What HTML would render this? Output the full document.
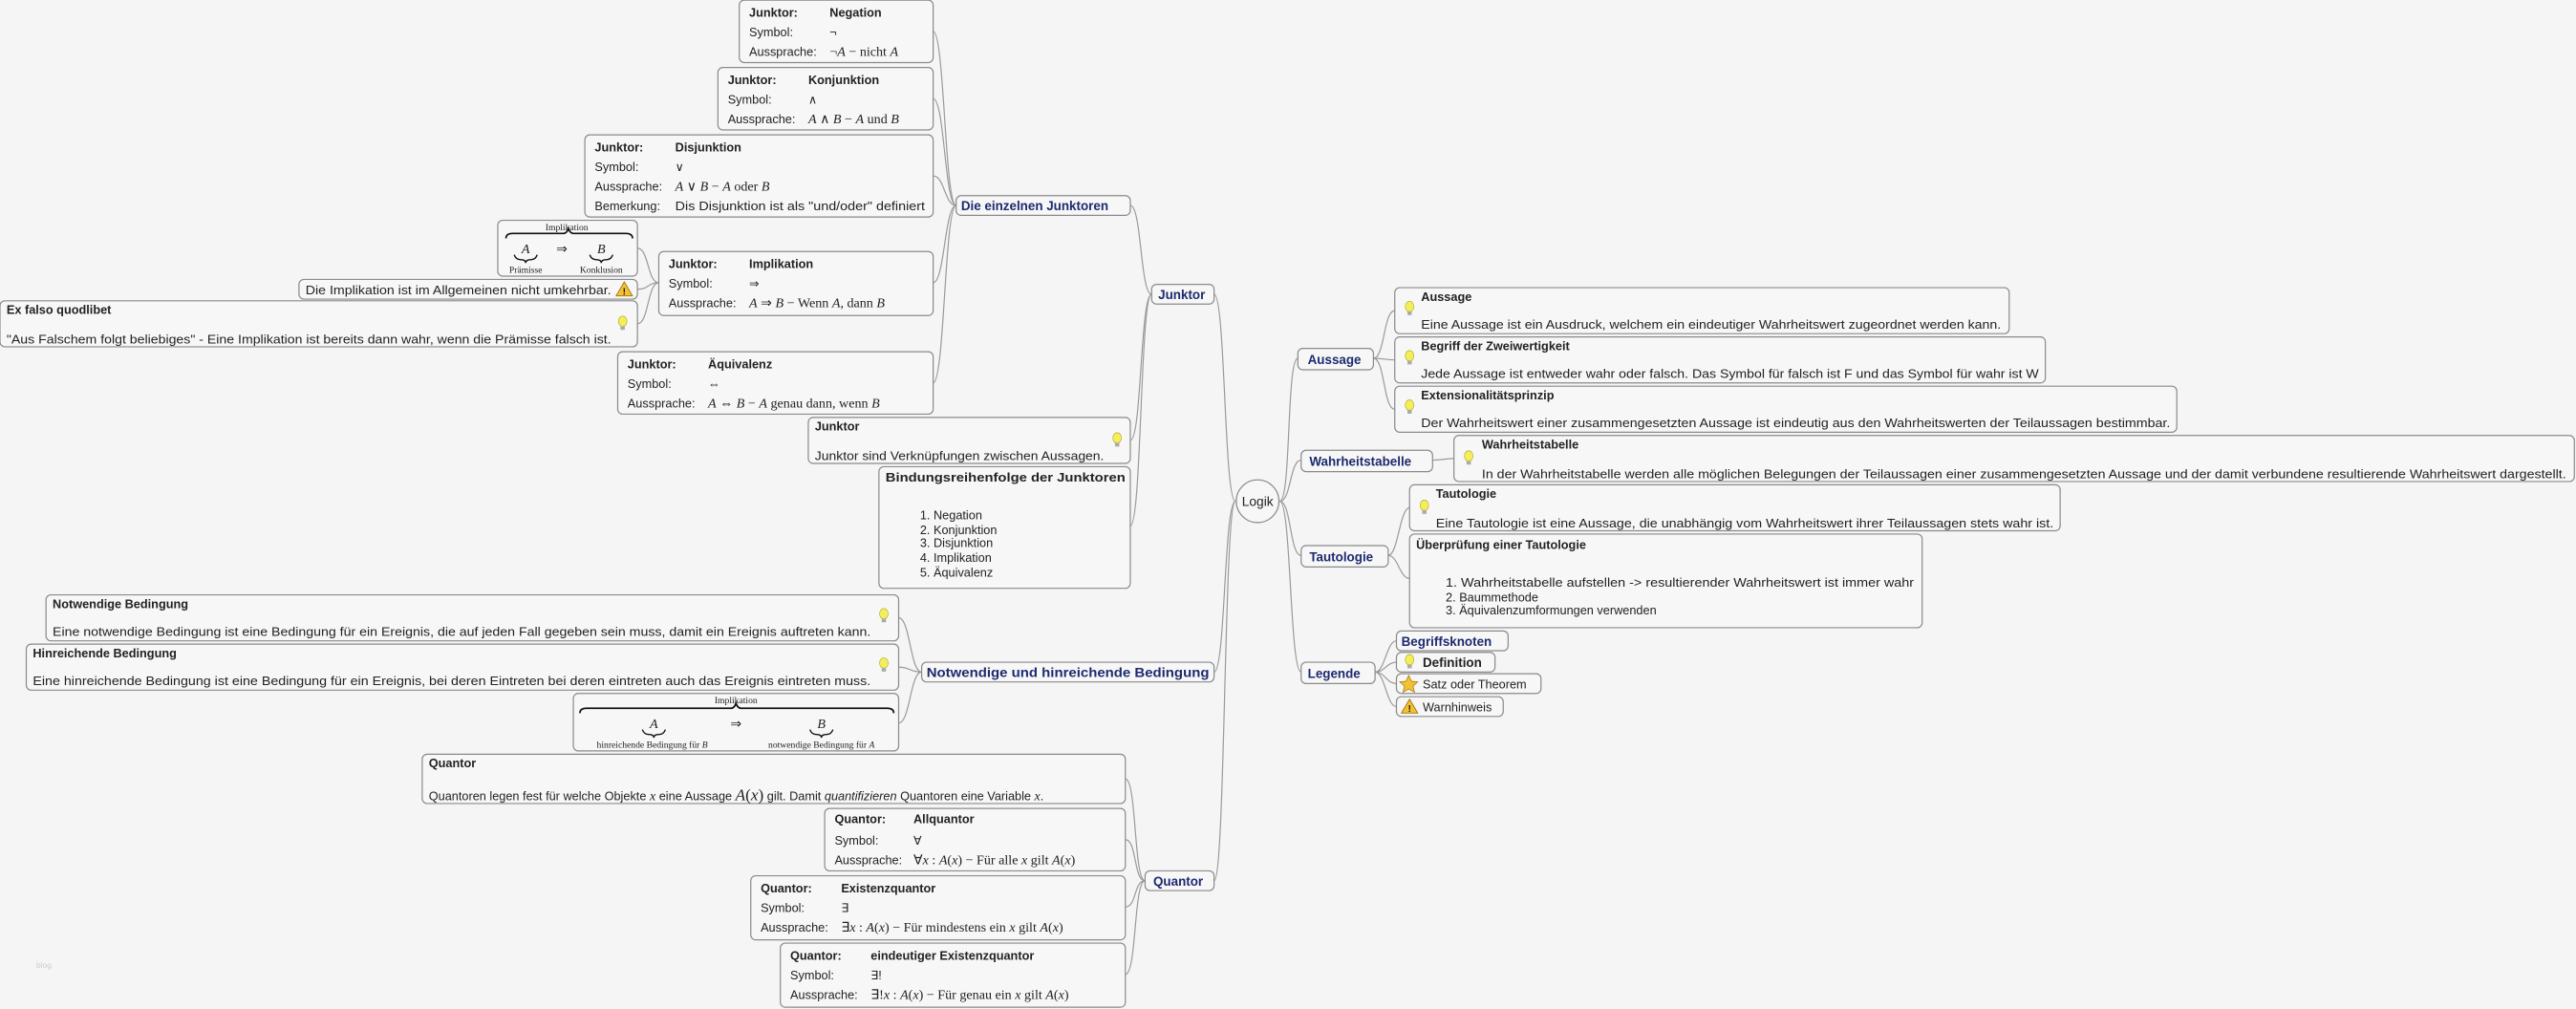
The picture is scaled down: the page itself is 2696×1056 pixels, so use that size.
<!DOCTYPE html>
<html><head><meta charset="utf-8"><style>
html,body{margin:0;padding:0;background:#f5f5f5;}
svg{display:block}
text{font-family:"Liberation Sans",sans-serif;font-size:7.4px;fill:#222}
.b{font-weight:bold}
.lb{font-weight:bold;fill:#1c2a6e;font-size:7.8px}
.m{font-family:"Liberation Serif",serif;font-size:8.2px}
.i{font-style:italic}
.s{font-family:"Liberation Serif",serif;font-size:5.6px}
.bx{fill:#f7f7f7;stroke:#8a8a8a;stroke-width:0.7}
.c{fill:none;stroke:#9a9a9a;stroke-width:0.7}
</style></head><body>
<svg width="2696" height="1056" viewBox="0 0 1568 614" xmlns="http://www.w3.org/2000/svg">
<defs>
<g id="bulb"><ellipse cx="0" cy="-1.5" rx="2.6" ry="3.2" fill="#f4ee5a" stroke="#b5ad30" stroke-width="0.4"/><rect x="-1.3" y="1.5" width="2.6" height="2.2" fill="#aaa"/></g>
<g id="warn"><polygon points="0,-4.5 5,4 -5,4" fill="#f2c230" stroke="#a07010" stroke-width="0.5"/><text x="0" y="3.2" text-anchor="middle" style="font-size:6px;font-weight:bold">!</text></g>
</defs>
<rect width="1568" height="614" fill="#f5f5f5"/>

<!-- connectors -->
<g class="c">
<path d="M779 305 C786 305,783 218,790 218"/>
<path d="M779 305 C786 305,785 280,792 280"/>
<path d="M779 305 C786 305,785 338,792 338"/>
<path d="M779 305 C786 305,785 409,792 409"/>
<path d="M836 218 C843 218,842 189,849 189"/>
<path d="M836 218 C843 218,842 219,849 219"/>
<path d="M836 218 C843 218,842 249,849 249"/>
<path d="M872 280 C878 280,879 279,885 279"/>
<path d="M845 338 C851 338,852 309,858 309"/>
<path d="M845 338 C851 338,852 352,858 352"/>
<path d="M837 409 C843 409,844 390,850 390"/>
<path d="M837 409 C843 409,844 403,850 403"/>
<path d="M837 409 C843 409,844 416,850 416"/>
<path d="M837 409 C843 409,844 430,850 430"/>

<path d="M752 305 C745 305,746 179,739 179"/>
<path d="M752 305 C745 305,746 409,739 409"/>
<path d="M752 305 C745 305,746 536,739 536"/>
<path d="M701 179 C694 179,695 125,688 125"/>
<path d="M701 179 C694 179,695 268,688 268"/>
<path d="M701 179 C694 179,695 320,688 320"/>
<path d="M582 125 C575 125,575 19,568 19"/>
<path d="M582 125 C575 125,575 60,568 60"/>
<path d="M582 125 C575 125,575 107,568 107"/>
<path d="M582 125 C575 125,575 172,568 172"/>
<path d="M582 125 C575 125,575 233,568 233"/>
<path d="M401 172 C394 172,395 151,388 151"/>
<path d="M401 172 C394 172,395 176,388 176"/>
<path d="M401 172 C394 172,395 197,388 197"/>
<path d="M561 409 C554 409,554 376,547 376"/>
<path d="M561 409 C554 409,554 406,547 406"/>
<path d="M561 409 C554 409,554 440,547 440"/>
<path d="M697 536 C690 536,692 474,685 474"/>
<path d="M697 536 C690 536,692 511,685 511"/>
<path d="M697 536 C690 536,692 552,685 552"/>
<path d="M697 536 C690 536,692 593,685 593"/>
</g>

<!-- root -->
<ellipse cx="765.5" cy="305" rx="13" ry="13" fill="#f7f7f7" stroke="#8a8a8a" stroke-width="0.7"/>
<text x="765.5" y="308" text-anchor="middle" style="font-size:8px">Logik</text>

<!-- right side -->
<rect class="bx" x="790" y="212" width="46" height="13" rx="3"/><text class="lb" x="796" y="221.5">Aussage</text>
<rect class="bx" x="849" y="175" width="374" height="28" rx="3"/><use href="#bulb" x="858" y="188"/>
<text class="b" x="865" y="183">Aussage</text>
<text x="865" y="200" textLength="353" lengthAdjust="spacingAndGlyphs">Eine Aussage ist ein Ausdruck, welchem ein eindeutiger Wahrheitswert zugeordnet werden kann.</text>
<rect class="bx" x="849" y="205" width="396" height="28" rx="3"/><use href="#bulb" x="858" y="218"/>
<text class="b" x="865" y="213">Begriff der Zweiwertigkeit</text>
<text x="865" y="230" textLength="376" lengthAdjust="spacingAndGlyphs">Jede Aussage ist entweder wahr oder falsch. Das Symbol für falsch ist F und das Symbol für wahr ist W</text>
<rect class="bx" x="849" y="235" width="476" height="28" rx="3"/><use href="#bulb" x="858" y="248"/>
<text class="b" x="865" y="243">Extensionalitätsprinzip</text>
<text x="865" y="260" textLength="456" lengthAdjust="spacingAndGlyphs">Der Wahrheitswert einer zusammengesetzten Aussage ist eindeutig aus den Wahrheitswerten der Teilaussagen bestimmbar.</text>

<rect class="bx" x="792" y="274" width="80" height="13" rx="3"/><text class="lb" x="797" y="283.5">Wahrheitstabelle</text>
<rect class="bx" x="885" y="265" width="682" height="28" rx="3"/><use href="#bulb" x="894" y="279"/>
<text class="b" x="902" y="273">Wahrheitstabelle</text>
<text x="902" y="291" textLength="660" lengthAdjust="spacingAndGlyphs">In der Wahrheitstabelle werden alle möglichen Belegungen der Teilaussagen einer zusammengesetzten Aussage und der damit verbundene resultierende Wahrheitswert dargestellt.</text>

<rect class="bx" x="792" y="332" width="53" height="13" rx="3"/><text class="lb" x="797" y="341.5">Tautologie</text>
<rect class="bx" x="858" y="295" width="396" height="28" rx="3"/><use href="#bulb" x="867" y="309"/>
<text class="b" x="874" y="303">Tautologie</text>
<text x="874" y="321" textLength="376" lengthAdjust="spacingAndGlyphs">Eine Tautologie ist eine Aussage, die unabhängig vom Wahrheitswert ihrer Teilaussagen stets wahr ist.</text>
<rect class="bx" x="858" y="325" width="312" height="57" rx="3"/>
<text class="b" x="862" y="334">Überprüfung einer Tautologie</text>
<text x="880" y="357" textLength="285" lengthAdjust="spacingAndGlyphs">1. Wahrheitstabelle aufstellen -&gt; resultierender Wahrheitswert ist immer wahr</text>
<text x="880" y="366">2. Baummethode</text>
<text x="880" y="374">3. Äquivalenzumformungen verwenden</text>

<rect class="bx" x="792" y="403" width="45" height="13" rx="3"/><text class="lb" x="796" y="412.5">Legende</text>
<rect class="bx" x="850" y="384" width="68" height="12" rx="3"/><text class="lb" x="853" y="393">Begriffsknoten</text>
<rect class="bx" x="850" y="397" width="60" height="12" rx="3"/><use href="#bulb" x="858" y="403"/><text class="b" x="866" y="406" style="font-size:7.8px">Definition</text>
<rect class="bx" x="850" y="410" width="88" height="12" rx="3"/><polygon points="857.5,411 859.2,414.6 863,415 860.1,417.6 861,421.3 857.5,419.3 854,421.3 854.9,417.6 852,415 855.8,414.6" fill="#f2c230" stroke="#a07010" stroke-width="0.4"/><text x="866" y="419">Satz oder Theorem</text>
<rect class="bx" x="850" y="424" width="65" height="12" rx="3"/><use href="#warn" x="858" y="430"/><text x="866" y="433">Warnhinweis</text>

<!-- left: Junktor -->
<rect class="bx" x="701" y="173" width="38" height="12" rx="3"/><text class="lb" x="705" y="182">Junktor</text>
<rect class="bx" x="582" y="119" width="106" height="12" rx="3"/><text class="lb" x="585" y="128">Die einzelnen Junktoren</text>

<rect class="bx" x="450" y="0" width="118" height="38" rx="3"/>
<text class="b" x="456" y="10">Junktor:</text><text class="b" x="505" y="10">Negation</text>
<text x="456" y="22">Symbol:</text><text x="505" y="22">¬</text>
<text x="456" y="34">Aussprache:</text><text class="m" x="505" y="34">¬<tspan class="i">A</tspan> − nicht <tspan class="i">A</tspan></text>

<rect class="bx" x="437" y="41" width="131" height="38" rx="3"/>
<text class="b" x="443" y="51">Junktor:</text><text class="b" x="492" y="51">Konjunktion</text>
<text x="443" y="63">Symbol:</text><text x="492" y="63">∧</text>
<text x="443" y="75">Aussprache:</text><text class="m" x="492" y="75"><tspan class="i">A</tspan> ∧ <tspan class="i">B</tspan> − <tspan class="i">A</tspan> und <tspan class="i">B</tspan></text>

<rect class="bx" x="356" y="82" width="212" height="50" rx="3"/>
<text class="b" x="362" y="92">Junktor:</text><text class="b" x="411" y="92">Disjunktion</text>
<text x="362" y="104">Symbol:</text><text x="411" y="104">∨</text>
<text x="362" y="116">Aussprache:</text><text class="m" x="411" y="116"><tspan class="i">A</tspan> ∨ <tspan class="i">B</tspan> − <tspan class="i">A</tspan> oder <tspan class="i">B</tspan></text>
<text x="362" y="128">Bemerkung:</text><text x="411" y="128" textLength="152" lengthAdjust="spacingAndGlyphs">Dis Disjunktion ist als "und/oder" definiert</text>

<rect class="bx" x="303" y="134" width="85" height="34" rx="3"/>
<text class="s" x="345" y="140" text-anchor="middle">Implikation</text>
<path d="M308 145 Q308 142,312 142 L343 142 Q345 142,346 139 Q347 142,349 142 L381 142 Q385 142,385 145" fill="none" stroke="#111" stroke-width="1"/>
<text class="m i" x="320" y="154" text-anchor="middle">A</text><text class="m" x="342" y="154" text-anchor="middle">⇒</text><text class="m i" x="366" y="154" text-anchor="middle">B</text>
<path d="M313 155 Q314 158,317 158 Q320 158,320 160 Q320 158,323 158 Q326 158,327 155" fill="none" stroke="#111" stroke-width="0.8"/>
<path d="M359 155 Q360 158,363 158 Q366 158,366 160 Q366 158,369 158 Q372 158,373 155" fill="none" stroke="#111" stroke-width="0.8"/>
<text class="s" x="320" y="166" text-anchor="middle">Prämisse</text><text class="s" x="366" y="166" text-anchor="middle">Konklusion</text>

<rect class="bx" x="182" y="170" width="206" height="12" rx="3"/>
<text x="186" y="179" textLength="186" lengthAdjust="spacingAndGlyphs">Die Implikation ist im Allgemeinen nicht umkehrbar.</text><use href="#warn" x="380" y="176"/>

<rect class="bx" x="0" y="183" width="388" height="28" rx="3"/><use href="#bulb" x="379" y="197"/>
<text class="b" x="4" y="191">Ex falso quodlibet</text>
<text x="4" y="209" textLength="368" lengthAdjust="spacingAndGlyphs">"Aus Falschem folgt beliebiges" - Eine Implikation ist bereits dann wahr, wenn die Prämisse falsch ist.</text>

<rect class="bx" x="401" y="153" width="167" height="39" rx="3"/>
<text class="b" x="407" y="163">Junktor:</text><text class="b" x="456" y="163">Implikation</text>
<text x="407" y="175">Symbol:</text><text x="456" y="175">⇒</text>
<text x="407" y="187">Aussprache:</text><text class="m" x="456" y="187"><tspan class="i">A</tspan> ⇒ <tspan class="i">B</tspan> − Wenn <tspan class="i">A</tspan>, dann <tspan class="i">B</tspan></text>

<rect class="bx" x="376" y="214" width="192" height="38" rx="3"/>
<text class="b" x="382" y="224">Junktor:</text><text class="b" x="431" y="224">Äquivalenz</text>
<text x="382" y="236">Symbol:</text><text x="431" y="236">⇔</text>
<text x="382" y="248">Aussprache:</text><text class="m" x="431" y="248"><tspan class="i">A</tspan> ⇔ <tspan class="i">B</tspan> − <tspan class="i">A</tspan> genau dann, wenn <tspan class="i">B</tspan></text>

<rect class="bx" x="492" y="254" width="196" height="28" rx="3"/><use href="#bulb" x="680" y="268"/>
<text class="b" x="496" y="262">Junktor</text>
<text x="496" y="280" textLength="176" lengthAdjust="spacingAndGlyphs">Junktor sind Verknüpfungen zwischen Aussagen.</text>

<rect class="bx" x="535" y="284" width="153" height="74" rx="3"/>
<text class="b" x="539" y="293" textLength="146" lengthAdjust="spacingAndGlyphs">Bindungsreihenfolge der Junktoren</text>
<text x="560" y="316">1. Negation</text>
<text x="560" y="325">2. Konjunktion</text>
<text x="560" y="333">3. Disjunktion</text>
<text x="560" y="342">4. Implikation</text>
<text x="560" y="351">5. Äquivalenz</text>

<!-- Bedingung -->
<rect class="bx" x="561" y="403" width="178" height="12" rx="3"/><text class="lb" x="564" y="412" textLength="172" lengthAdjust="spacingAndGlyphs">Notwendige und hinreichende Bedingung</text>
<rect class="bx" x="28" y="362" width="519" height="28" rx="3"/><use href="#bulb" x="538" y="375"/>
<text class="b" x="32" y="370">Notwendige Bedingung</text>
<text x="32" y="387" textLength="498" lengthAdjust="spacingAndGlyphs">Eine notwendige Bedingung ist eine Bedingung für ein Ereignis, die auf jeden Fall gegeben sein muss, damit ein Ereignis auftreten kann.</text>
<rect class="bx" x="16" y="392" width="531" height="28" rx="3"/><use href="#bulb" x="538" y="405"/>
<text class="b" x="20" y="400">Hinreichende Bedingung</text>
<text x="20" y="417" textLength="510" lengthAdjust="spacingAndGlyphs">Eine hinreichende Bedingung ist eine Bedingung für ein Ereignis, bei deren Eintreten bei deren eintreten auch das Ereignis eintreten muss.</text>

<rect class="bx" x="349" y="422" width="198" height="35" rx="3"/>
<text class="s" x="448" y="428" text-anchor="middle">Implikation</text>
<path d="M353 434 Q353 431,357 431 L445 431 Q447 431,448 428 Q449 431,451 431 L540 431 Q544 431,544 434" fill="none" stroke="#111" stroke-width="1"/>
<text class="m i" x="398" y="443" text-anchor="middle">A</text><text class="m" x="448" y="443" text-anchor="middle">⇒</text><text class="m i" x="500" y="443" text-anchor="middle">B</text>
<path d="M391 444 Q392 447,395 447 Q398 447,398 449 Q398 447,401 447 Q404 447,405 444" fill="none" stroke="#111" stroke-width="0.8"/>
<path d="M493 444 Q494 447,497 447 Q500 447,500 449 Q500 447,503 447 Q506 447,507 444" fill="none" stroke="#111" stroke-width="0.8"/>
<text class="s" x="397" y="455" text-anchor="middle">hinreichende Bedingung für <tspan font-style="italic">B</tspan></text>
<text class="s" x="500" y="455" text-anchor="middle">notwendige Bedingung für <tspan font-style="italic">A</tspan></text>

<!-- Quantor -->
<rect class="bx" x="697" y="530" width="42" height="12" rx="3"/><text class="lb" x="702" y="539">Quantor</text>
<rect class="bx" x="257" y="459" width="428" height="30" rx="3"/>
<text class="b" x="261" y="467">Quantor</text>
<text x="261" y="487">Quantoren legen fest für welche Objekte <tspan class="m i">x</tspan> eine Aussage <tspan class="m" style="font-size:10px"><tspan class="i">A</tspan>(<tspan class="i">x</tspan>)</tspan> gilt. Damit <tspan class="i">quantifizieren</tspan> Quantoren eine Variable <tspan class="m i">x</tspan>.</text>

<rect class="bx" x="502" y="492" width="183" height="38" rx="3"/>
<text class="b" x="508" y="501">Quantor:</text><text class="b" x="556" y="501">Allquantor</text>
<text x="508" y="514">Symbol:</text><text x="556" y="514">∀</text>
<text x="508" y="526">Aussprache:</text><text class="m" x="556" y="526">∀<tspan class="i">x</tspan> : <tspan class="i">A</tspan>(<tspan class="i">x</tspan>) − Für alle <tspan class="i">x</tspan> gilt <tspan class="i">A</tspan>(<tspan class="i">x</tspan>)</text>

<rect class="bx" x="457" y="533" width="228" height="39" rx="3"/>
<text class="b" x="463" y="543">Quantor:</text><text class="b" x="512" y="543">Existenzquantor</text>
<text x="463" y="555">Symbol:</text><text x="512" y="555">∃</text>
<text x="463" y="567">Aussprache:</text><text class="m" x="512" y="567">∃<tspan class="i">x</tspan> : <tspan class="i">A</tspan>(<tspan class="i">x</tspan>) − Für mindestens ein <tspan class="i">x</tspan> gilt <tspan class="i">A</tspan>(<tspan class="i">x</tspan>)</text>

<rect class="bx" x="475" y="574" width="210" height="39" rx="3"/>
<text class="b" x="481" y="584">Quantor:</text><text class="b" x="530" y="584">eindeutiger Existenzquantor</text>
<text x="481" y="596">Symbol:</text><text x="530" y="596">∃!</text>
<text x="481" y="608">Aussprache:</text><text class="m" x="530" y="608">∃!<tspan class="i">x</tspan> : <tspan class="i">A</tspan>(<tspan class="i">x</tspan>) − Für genau ein <tspan class="i">x</tspan> gilt <tspan class="i">A</tspan>(<tspan class="i">x</tspan>)</text>

<text x="22" y="589" style="font-size:5px;fill:#ccc">blog</text>
</svg>
</body></html>
